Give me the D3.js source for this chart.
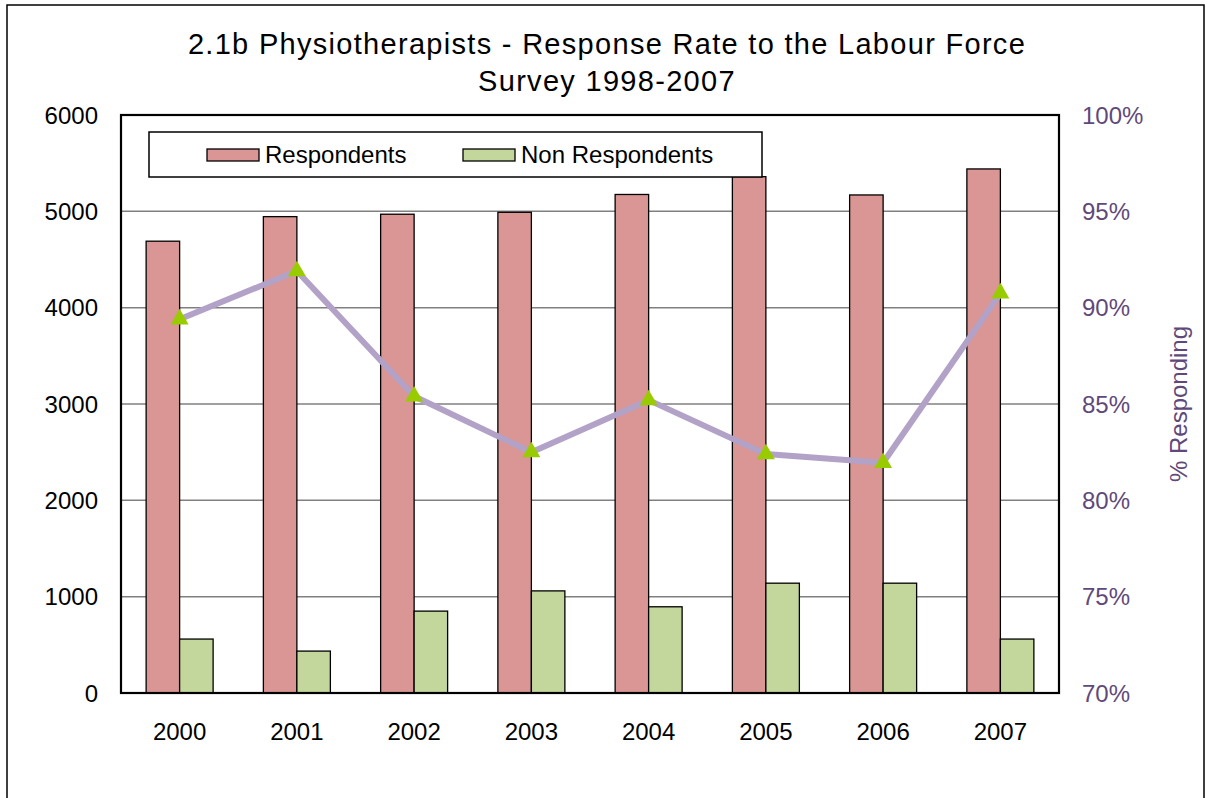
<!DOCTYPE html>
<html>
  <head>
    <meta charset="utf-8" />
    <script src="https://d3js.org/d3.v7.min.js"></script>
    <style>
      body {
        margin: 0;
        background: #fff;
      }
      text {
        font-family: "Liberation Sans", Arial, sans-serif;
      }
    </style>
  </head>
  <body>
    <div id="my_chart"></div>
    <script>
      // data
      const years = ["2000", "2001", "2002", "2003", "2004", "2005", "2006", "2007"];
      const respondents = [4690, 4945, 4970, 4990, 5175, 5360, 5170, 5440];
      const nonRespondents = [560, 435, 850, 1060, 895, 1140, 1140, 560];
      const pctResponding = [89.4, 91.9, 85.4, 82.5, 85.2, 82.4, 81.95, 90.75];
      const leftTicks = [0, 1000, 2000, 3000, 4000, 5000, 6000];
      const rightTicks = [70, 75, 80, 85, 90, 95, 100];
      const seriesNames = ["Respondents", "Non Respondents"];

      const W = 1206,
        H = 798;
      const margin = { top: 115, right: 147, bottom: 105, left: 121 },
        width = W - margin.left - margin.right,
        height = H - margin.top - margin.bottom;

      const colors = { resp: "#d99694", non: "#c3d69b", line: "#b3a2c7", marker: "#99cc00", purple: "#5f497a" };

      const svg = d3
        .select("#my_chart")
        .append("svg")
        .attr("width", W)
        .attr("height", H);

      // outer chart frame
      svg
        .append("rect")
        .attr("x", 7)
        .attr("y", 5)
        .attr("width", 1197)
        .attr("height", 820)
        .attr("fill", "none")
        .attr("stroke", "#000")
        .attr("stroke-width", 1.5);

      // title
      const title = svg
        .append("text")
        .attr("text-anchor", "middle")
        .attr("font-size", 29)
        .attr("letter-spacing", 1.3)
        .attr("fill", "#000");
      title.append("tspan").attr("x", 607).attr("y", 54).text("2.1b Physiotherapists - Response Rate to the Labour Force");
      title.append("tspan").attr("x", 607).attr("y", 91).text("Survey 1998-2007");

      const g = svg
        .append("g")
        .attr("transform", "translate(" + margin.left + "," + margin.top + ")");

      // scales
      const x = d3.scaleBand().domain(years).range([0, width]).padding(0);
      const y = d3.scaleLinear().domain([0, 6000]).range([height, 0]);
      const y2 = d3.scaleLinear().domain([70, 100]).range([height, 0]);
      const barW = x.bandwidth() * 0.2857;

      // gridlines
      g.selectAll(".grid")
        .data(leftTicks.slice(1, -1))
        .enter()
        .append("line")
        .attr("x1", 0)
        .attr("x2", width)
        .attr("y1", (d) => y(d))
        .attr("y2", (d) => y(d))
        .attr("stroke", "#808080")
        .attr("stroke-width", 1.5);

      // bars
      const groups = g
        .selectAll(".year")
        .data(years)
        .enter()
        .append("g")
        .attr("transform", (d) => "translate(" + (x(d) + x.bandwidth() / 2) + ",0)");

      groups
        .append("rect")
        .attr("x", -barW)
        .attr("y", (d, i) => y(respondents[i]))
        .attr("width", barW)
        .attr("height", (d, i) => height - y(respondents[i]))
        .attr("fill", colors.resp)
        .attr("stroke", "#000")
        .attr("stroke-width", 1.3);

      groups
        .append("rect")
        .attr("x", 0)
        .attr("y", (d, i) => y(nonRespondents[i]))
        .attr("width", barW)
        .attr("height", (d, i) => height - y(nonRespondents[i]))
        .attr("fill", colors.non)
        .attr("stroke", "#000")
        .attr("stroke-width", 1.3);

      // plot border
      g.append("rect")
        .attr("width", width)
        .attr("height", height)
        .attr("fill", "none")
        .attr("stroke", "#000")
        .attr("stroke-width", 2.2);

      // line of % responding
      const line = d3
        .line()
        .x((d, i) => x(years[i]) + x.bandwidth() / 2)
        .y((d) => y2(d));
      g.append("path")
        .datum(pctResponding)
        .attr("fill", "none")
        .attr("stroke", colors.line)
        .attr("stroke-width", 6)
        .attr("stroke-linejoin", "round")
        .attr("d", line);

      g.selectAll(".marker")
        .data(pctResponding)
        .enter()
        .append("path")
        .attr("d", d3.symbol().type(d3.symbolTriangle).size(140))
        .attr("transform", (d, i) => "translate(" + (x(years[i]) + x.bandwidth() / 2) + "," + y2(d) + ")")
        .attr("fill", colors.marker);

      // left axis labels
      g.selectAll(".ltick")
        .data(leftTicks)
        .enter()
        .append("text")
        .attr("x", -23)
        .attr("y", (d) => y(d))
        .attr("dy", "0.36em")
        .attr("text-anchor", "end")
        .attr("font-size", 24)
        .attr("fill", "#000")
        .text((d) => d);

      // right axis labels
      g.selectAll(".rtick")
        .data(rightTicks)
        .enter()
        .append("text")
        .attr("x", width + 23)
        .attr("y", (d) => y2(d))
        .attr("dy", "0.36em")
        .attr("font-size", 24)
        .attr("fill", colors.purple)
        .text((d) => d + "%");

      // x axis labels
      g.selectAll(".xlab")
        .data(years)
        .enter()
        .append("text")
        .attr("x", (d) => x(d) + x.bandwidth() / 2)
        .attr("y", height + 47)
        .attr("text-anchor", "middle")
        .attr("font-size", 24)
        .attr("fill", "#000")
        .text((d) => d);

      // right axis title
      svg
        .append("text")
        .attr("transform", "translate(1187," + (margin.top + height / 2) + ") rotate(-90)")
        .attr("text-anchor", "middle")
        .attr("font-size", 24)
        .attr("fill", colors.purple)
        .text("% Responding");

      // legend
      const legend = svg.append("g");
      legend
        .append("rect")
        .attr("x", 149)
        .attr("y", 132)
        .attr("width", 613)
        .attr("height", 45)
        .attr("fill", "#fff")
        .attr("stroke", "#000")
        .attr("stroke-width", 1.5);
      const legendX = [207, 463];
      const legendFill = [colors.resp, colors.non];
      seriesNames.forEach((name, i) => {
        legend
          .append("rect")
          .attr("x", legendX[i])
          .attr("y", 149)
          .attr("width", 52)
          .attr("height", 12)
          .attr("fill", legendFill[i])
          .attr("stroke", "#000")
          .attr("stroke-width", 1.3);
        legend
          .append("text")
          .attr("x", legendX[i] + 58)
          .attr("y", 163)
          .attr("font-size", 24)
          .attr("fill", "#000")
          .text(name);
      });
    </script>
  </body>
</html>
